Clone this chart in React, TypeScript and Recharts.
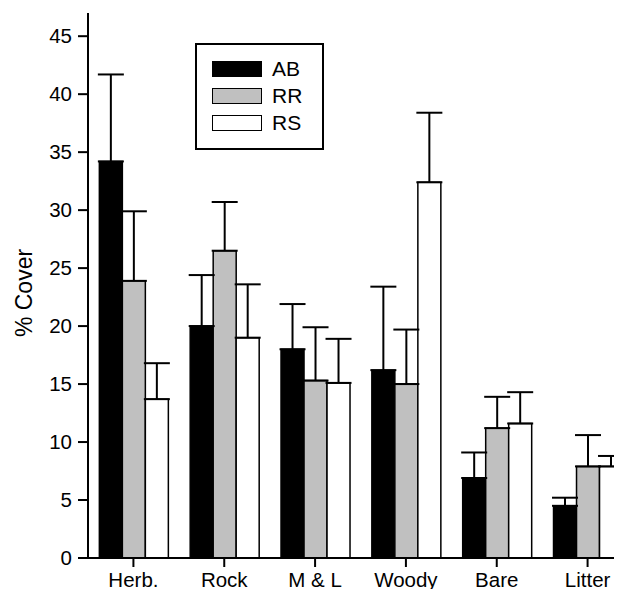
import { BarChart, Bar, XAxis, YAxis, ErrorBar } from 'recharts'

const categories = ['Herb.', 'Rock', 'M & L', 'Woody', 'Bare', 'Litter']
const abMean = [34.2, 20.0, 18.0, 16.2, 6.9, 4.5]
const abErr = [7.5, 4.4, 3.9, 7.2, 2.2, 0.7]
const rrMean = [23.9, 26.5, 15.3, 15.0, 11.2, 7.9]
const rrErr = [6.0, 4.2, 4.6, 4.7, 2.7, 2.7]
const rsMean = [13.7, 19.0, 15.1, 32.4, 11.6, 7.9]
const rsErr = [3.1, 4.6, 3.8, 6.0, 2.7, 0.9]
const yTicks = [0, 5, 10, 15, 20, 25, 30, 35, 40, 45]

const series = [
  { key: 'AB', fill: '#000000' },
  { key: 'RR', fill: '#c0c0c0' },
  { key: 'RS', fill: '#ffffff' },
]

const data = categories.map((name, i) => ({
  name,
  AB: abMean[i],
  ABerr: [0, abErr[i]],
  RR: rrMean[i],
  RRerr: [0, rrErr[i]],
  RS: rsMean[i],
  RSerr: [0, rsErr[i]],
}))

const FONT = '"Liberation Sans", Arial, sans-serif'

function LegendBox() {
  return (
    <div
      style={{
        position: 'absolute',
        left: 195,
        top: 43,
        width: 129,
        height: 107,
        border: '2px solid #000',
        background: '#fff',
        fontFamily: FONT,
        fontSize: 21,
        boxSizing: 'border-box',
      }}
    >
      {series.map((s, i) => (
        <div
          key={s.key}
          style={{ position: 'absolute', left: 15, top: 16 + i * 27, display: 'flex', alignItems: 'center' }}
        >
          <div
            style={{
              width: 50,
              height: 16,
              background: s.fill,
              border: '1.5px solid #000',
              boxSizing: 'border-box',
            }}
          />
          <span style={{ marginLeft: 10, lineHeight: '16px' }}>{s.key}</span>
        </div>
      ))}
    </div>
  )
}

const CoverLabel = () => (
  <text
    x={0}
    y={0}
    transform="translate(32, 293) rotate(-90)"
    textAnchor="middle"
    fill="#000"
    fontSize={23}
    fontFamily={FONT}
  >
    % Cover
  </text>
)

export default function App() {
  return (
    <div style={{ margin: -8, width: 622, height: 597, overflow: 'hidden', position: 'relative', background: '#fff' }}>
      <BarChart
        width={642}
        height={597}
        data={data}
        margin={{ top: 13, right: 9, bottom: 0, left: 0 }}
        barCategoryGap="12.5%"
        barGap={0}
        style={{ fontFamily: FONT }}
      >
        <XAxis
          dataKey="name"
          height={39}
          tickSize={9}
          tickMargin={5}
          axisLine={{ stroke: '#000', strokeWidth: 2 }}
          tickLine={{ stroke: '#000', strokeWidth: 2 }}
          tick={{ fill: '#000', fontSize: 20.5 }}
        />
        <XAxis
          xAxisId="top"
          orientation="top"
          dataKey="name"
          height={0}
          tick={false}
          tickLine={false}
          axisLine={{ stroke: '#000', strokeWidth: 2 }}
        />
        <YAxis
          width={88}
          domain={[0, 47]}
          ticks={yTicks}
          tickSize={10}
          tickMargin={6}
          axisLine={{ stroke: '#000', strokeWidth: 2 }}
          tickLine={{ stroke: '#000', strokeWidth: 2 }}
          tick={{ fill: '#000', fontSize: 20.5 }}
          label={<CoverLabel />}
        />
        {series.map((s) => (
          <Bar
            key={s.key}
            dataKey={s.key}
            fill={s.fill}
            stroke="#000"
            strokeWidth={1.5}
            isAnimationActive={false}
          >
            <ErrorBar dataKey={`${s.key}err`} width={13} stroke="#000" strokeWidth={2} direction="y" />
          </Bar>
        ))}
      </BarChart>
      <LegendBox />
    </div>
  )
}
